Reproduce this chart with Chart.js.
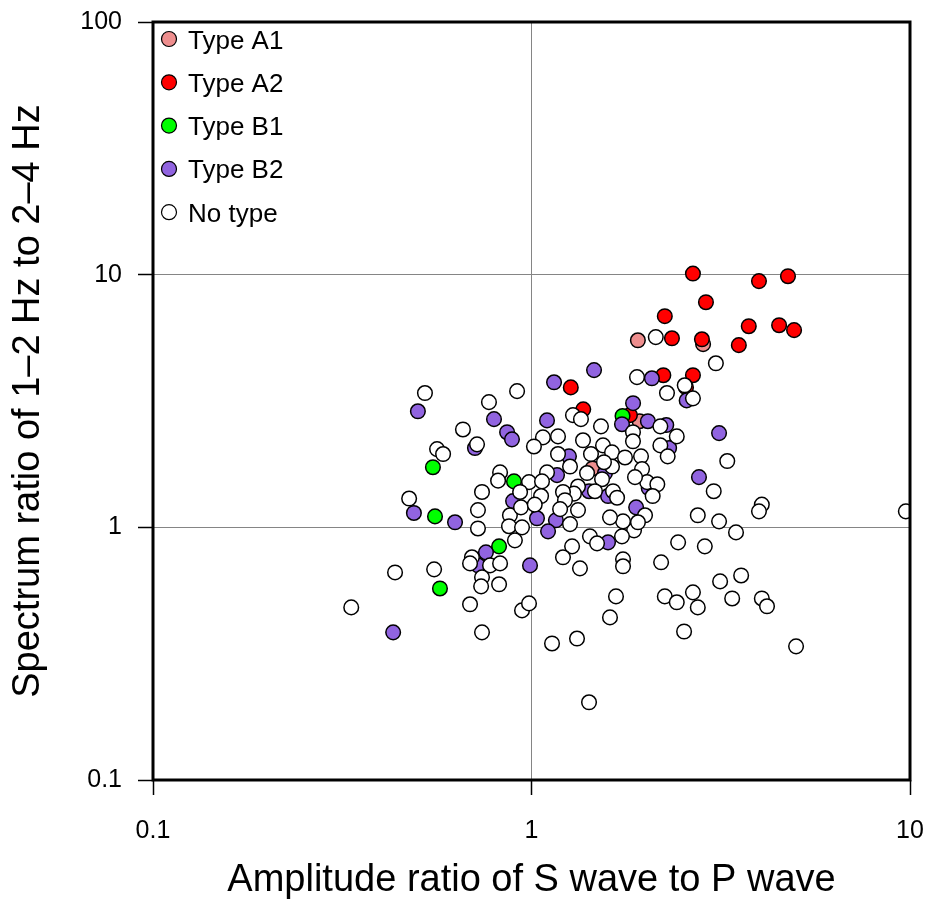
<!DOCTYPE html>
<html>
<head>
<meta charset="utf-8">
<script src="https://cdn.jsdelivr.net/npm/chart.js@4.4.1/dist/chart.umd.min.js"></script>
<style>
  html, body { margin: 0; padding: 0; background: #fff; }
  #wrap { position: relative; width: 929px; height: 904px; }
</style>
</head>
<body>
<div id="wrap"><canvas id="ratioChart"></canvas></div>
<script>
// axis ticks (decades only)
const xTicks = [0.1, 1, 10];
const yTicks = [0.1, 1, 10, 100];

// Type A1
const a1X = [1.91, 2.84, 1.93, 1.45];
const a1Y = [5.50, 5.31, 2.63, 1.71];

// Type A2
const a2X = [2.67, 4.76, 3.99, 2.89, 2.25, 3.75, 4.51, 4.94, 2.35, 2.82, 3.53, 2.23, 2.67, 2.56, 1.27, 1.37, 1.82];
const a2Y = [10.1, 9.86, 9.43, 7.78, 6.85, 6.25, 6.31, 6.03, 5.60, 5.55, 5.26, 4.00, 4.00, 3.58, 3.58, 2.93, 2.78];

// Type B1
const b1X = [1.74, 0.549, 0.899, 0.556, 0.821, 0.573];
const b1Y = [2.76, 1.73, 1.52, 1.105, 0.841, 0.573];

// Type B2
const b2X = [0.501, 0.796, 0.862, 0.888, 0.709, 1.147, 1.463, 1.099, 1.734, 1.256,
             1.168, 1.564, 1.419, 1.593, 0.894, 0.489, 0.628, 1.034, 1.16, 1.106,
             1.593, 0.758, 0.722, 0.991, 0.431, 2.08, 2.57, 1.855, 2.03, 2.27,
             2.31, 3.13, 2.77, 2.04, 1.89];
const b2Y = [2.88, 2.68, 2.38, 2.23, 2.06, 3.75, 4.19, 2.65, 2.56, 1.91,
             1.61, 1.64, 1.39, 1.33, 1.27, 1.14, 1.047, 1.086, 1.066, 0.964,
             0.872, 0.796, 0.707, 0.707, 0.384, 3.89, 3.18, 3.10, 2.63, 2.54,
             2.06, 2.36, 1.58, 1.43, 1.20];

// No type
const noX = [0.523, 0.772, 0.916, 0.659, 0.718, 0.563, 0.584, 0.826, 0.816, 0.985,
             0.740, 0.475, 0.722, 0.877, 0.938, 0.722, 0.872, 0.944, 0.904, 0.696,
             0.688, 0.777, 0.826, 0.740, 0.736, 0.821, 0.553, 0.436, 0.334, 0.688,
             0.740, 0.944, 0.985,
             1.287, 1.351, 1.526, 1.072, 1.175, 1.015, 1.368, 1.545, 1.632, 1.766,
             1.947, 1.175, 1.436, 1.264, 1.402, 1.632, 1.554, 1.536, 1.099, 1.066,
             0.933, 1.327, 1.295, 1.471, 1.642, 1.211, 1.959, 2.02, 2.15, 1.877,
             2.09, 1.854, 1.854, 2.19, 2.42, 2.19, 2.29, 1.90, 2.13, 3.07,
             2.28, 2.54, 2.67, 3.03, 3.29,
             1.06, 1.02, 1.226, 1.19, 1.327, 1.264, 1.683, 1.995, 1.866, 1.745,
             1.612, 1.734, 1.427, 1.49, 1.28, 1.211, 1.343, 1.745, 1.745, 2.44,
             2.87, 2.75, 3.13, 2.20, 1.672, 1.612, 1.319, 1.133, 2.25, 2.42,
             2.67, 2.75, 2.53, 3.15, 3.58, 3.39, 4.06, 4.19, 5.00, 3.47,
             4.06, 3.99, 9.75, 1.419, 1.911];
const noY = [3.40, 3.13, 3.46, 2.44, 2.13, 2.04, 1.95, 1.65, 1.53, 1.51,
             1.38, 1.30, 1.17, 1.116, 1.20, 0.99, 1.01, 1.00, 0.888, 0.761,
             0.720, 0.707, 0.720, 0.634, 0.584, 0.595, 0.682, 0.663, 0.482, 0.496,
             0.384, 0.469, 0.500,
             2.78, 2.68, 2.51, 2.27, 2.29, 2.09, 2.21, 2.11, 1.98, 1.89,
             1.91, 1.95, 1.95, 1.74, 1.64, 1.74, 1.81, 1.55, 1.65, 1.52,
             1.38, 1.45, 1.36, 1.39, 1.39, 1.38, 1.70, 1.51, 1.48, 1.58,
             1.33, 2.38, 2.19, 2.51, 2.29, 2.11, 1.91, 3.93, 5.66, 4.46,
             3.40, 3.65, 3.24, 1.39, 1.83,
             1.33, 1.23, 1.28, 1.18, 1.17, 1.03, 1.31, 1.116, 0.973, 1.056,
             1.095, 0.921, 0.921, 0.864, 0.841, 0.761, 0.688, 0.747, 0.701, 0.872,
             0.841, 1.116, 1.056, 0.727, 0.533, 0.440, 0.363, 0.347, 0.533, 0.505,
             0.553, 0.482, 0.387, 0.611, 0.645, 0.523, 0.523, 0.487, 0.338, 0.955,
             1.23, 1.157, 1.157, 0.203, 1.047];

const toPoints = (xs, ys) => xs.map((x, i) => ({ x: x, y: ys[i] }));

const FONT = "'Liberation Sans', Arial, Helvetica, sans-serif";
Chart.defaults.font.family = FONT;
Chart.defaults.color = '#000';

function makeSet(label, xs, ys, fill) {
  return {
    label: label,
    data: toPoints(xs, ys),
    backgroundColor: fill,
    borderColor: '#000',
    borderWidth: 1.5,
    pointRadius: 7.3,
    pointHoverRadius: 7.3,
    clip: 0
  };
}

// drawn bottom first, so colored types sit over the untyped ones
const datasets = [
  makeSet('No type', noX, noY, '#ffffff'),
  makeSet('Type B2', b2X, b2Y, '#9164e0'),
  makeSet('Type B1', b1X, b1Y, '#00ff00'),
  makeSet('Type A2', a2X, a2Y, '#ff0000'),
  makeSet('Type A1', a1X, a1Y, '#ee8e8e')
];

// legend inside the top-left corner, A1 first
const insideLegend = {
  id: 'insideLegend',
  afterDraw(chart) {
    const { ctx, chartArea } = chart;
    const items = chart.data.datasets.slice().reverse();
    ctx.save();
    ctx.font = '26px ' + FONT;
    ctx.textBaseline = 'alphabetic';
    ctx.textAlign = 'left';
    items.forEach((ds, i) => {
      const cx = chartArea.left + 16;
      const cy = chartArea.top + 17 + i * 43.3;
      ctx.beginPath();
      ctx.arc(cx, cy, 7.5, 0, Math.PI * 2);
      ctx.fillStyle = ds.backgroundColor;
      ctx.fill();
      ctx.lineWidth = 1.2;
      ctx.strokeStyle = '#000';
      ctx.stroke();
      ctx.fillStyle = '#000';
      ctx.fillText(ds.label, cx + 19, cy + 9.5);
    });
    ctx.restore();
  }
};

// heavy frame round the plot area
const frame = {
  id: 'frame',
  afterDatasetsDraw(chart) {
    const { ctx, chartArea } = chart;
    ctx.save();
    ctx.lineWidth = 3;
    ctx.strokeStyle = '#000';
    ctx.strokeRect(chartArea.left, chartArea.top,
      chartArea.right - chartArea.left, chartArea.bottom - chartArea.top);
    ctx.restore();
  }
};

const ctx = document.getElementById('ratioChart').getContext('2d');
new Chart(ctx, {
  type: 'scatter',
  data: { datasets: datasets },
  options: {
    responsive: true,
    maintainAspectRatio: false,
    devicePixelRatio: 1,
    animation: false,
    events: [],
    layout: { padding: { left: 0, right: 19, top: 22, bottom: 0 } },
    plugins: {
      legend: { display: false },
      tooltip: { enabled: false }
    },
    scales: {
      x: {
        type: 'logarithmic',
        min: 0.1,
        max: 10,
        afterBuildTicks: (axis) => { axis.ticks = xTicks.map(v => ({ value: v })); },
        afterFit: (axis) => {
          axis.height = 124;
          axis.paddingLeft = 0;
          axis.paddingRight = 0;
        },
        border: { display: false },
        grid: { color: '#858585', lineWidth: 1, tickLength: 15, tickColor: '#000', tickWidth: 1.5 },
        ticks: {
          callback: (v) => String(v),
          font: { size: 25 },
          color: '#000',
          padding: 21,
          maxRotation: 0,
          autoSkip: false
        },
        title: {
          display: true,
          text: 'Amplitude ratio of S wave to P wave',
          font: { size: 38 },
          color: '#000',
          padding: { top: 0, bottom: 1 }
        }
      },
      y: {
        type: 'logarithmic',
        min: 0.1,
        max: 100,
        afterBuildTicks: (axis) => { axis.ticks = yTicks.map(v => ({ value: v })); },
        afterFit: (axis) => {
          axis.width = 153;
          axis.paddingTop = 0;
          axis.paddingBottom = 0;
        },
        border: { display: false },
        grid: { color: '#858585', lineWidth: 1, tickLength: 15, tickColor: '#000', tickWidth: 1.5 },
        ticks: {
          callback: (v) => String(v),
          font: { size: 25 },
          color: '#000',
          padding: 16,
          autoSkip: false
        },
        title: {
          display: true,
          text: 'Spectrum ratio of 1\u20132 Hz to 2\u20134 Hz',
          font: { size: 38 },
          color: '#000',
          padding: { top: 6, bottom: 0 }
        }
      }
    }
  },
  plugins: [frame, insideLegend]
});
</script>
</body>
</html>
